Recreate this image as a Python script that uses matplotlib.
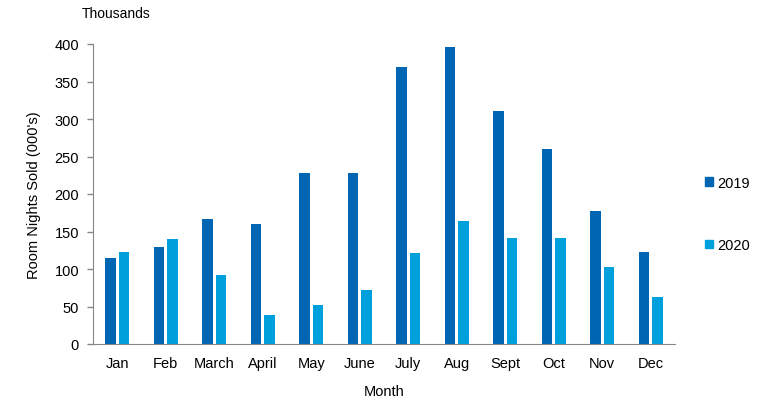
import numpy as np
import matplotlib
matplotlib.use("Agg")
import matplotlib.pyplot as plt
from matplotlib.patches import Patch

plt.rcParams['font.family'] = ['Liberation Sans', 'DejaVu Sans']

months = ["Jan", "Feb", "March", "April", "May", "June",
          "July", "Aug", "Sept", "Oct", "Nov", "Dec"]
nights_2019 = [115, 130, 167, 160, 228, 228, 369, 396, 311, 260, 177, 123]
nights_2020 = [123, 140, 92, 39, 52, 72, 121, 164, 141, 141, 103, 63]
yticks = [0, 50, 100, 150, 200, 250, 300, 350, 400]

c2019 = "#0066b3"
c2020 = "#00a0dc"

fig = plt.figure(figsize=(7.69, 4.06), dpi=100)
ax = fig.add_axes([93 / 769, 1 - 345 / 406, 582 / 769, 300 / 406])

x = np.arange(len(months))
w = 0.215
off = 0.14
ax.bar(x - off, nights_2019, width=w, color=c2019)
ax.bar(x + off, nights_2020, width=w, color=c2020)

ax.set_xlim(-0.5, len(months) - 0.5)
ax.set_ylim(0, 400)
ax.set_yticks(yticks)
ax.set_xticks(x)
ax.set_xticklabels(months)
ax.tick_params(axis="x", length=0, pad=9, labelsize=10.5, colors="#000000")
ax.tick_params(axis="y", length=4, width=1, color="#868686", pad=6, labelsize=10.5)

for s in ["top", "right"]:
    ax.spines[s].set_visible(False)
for s in ["left", "bottom"]:
    ax.spines[s].set_color("#868686")

ax.set_ylabel("Room Nights Sold (000's)", fontsize=10.5, labelpad=10)
ax.set_xlabel("Month", fontsize=10.5, labelpad=10)
fig.text(82 / 769, 1 - 14 / 406, "Thousands", fontsize=10, va="center", ha="left")

handles = [Patch(color=c2019, label="2019"), Patch(color=c2020, label="2020")]
fig.legend(handles=handles, loc="center left", bbox_to_anchor=(692 / 769, 1 - 215 / 406),
           frameon=False, fontsize=10.5, handlelength=0.55, handleheight=0.55,
           handletextpad=0.25, labelspacing=3.3)

fig.savefig("out.png", dpi=100)
